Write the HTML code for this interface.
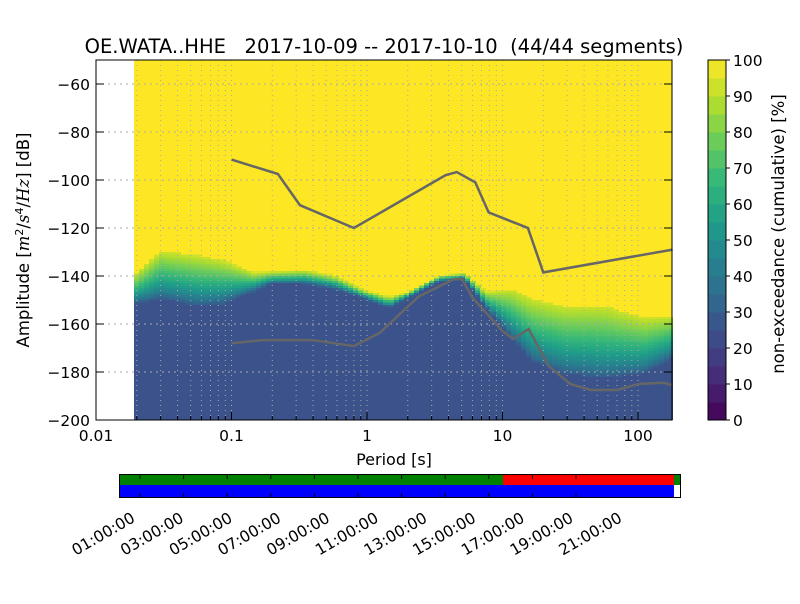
<!DOCTYPE html>
<html><head><meta charset="utf-8"><style>
body{margin:0;background:#fff;width:800px;height:600px;overflow:hidden;font-family:"DejaVu Sans","Liberation Sans",sans-serif}
text{white-space:pre}
</style></head><body>
<svg id="svg" width="800" height="600" xmlns="http://www.w3.org/2000/svg" font-family="DejaVu Sans, Liberation Sans, sans-serif">
<g id="heat" shape-rendering="crispEdges"></g>
<g id="grid"></g>
<g id="lines"></g>
<rect x="96" y="60" width="576" height="360" fill="none" stroke="#000" stroke-width="1"/>
<g id="axes"></g>
<text x="384" y="53" font-size="19.5" text-anchor="middle" xml:space="preserve">OE.WATA..HHE   2017-10-09 -- 2017-10-10  (44/44 segments)</text>
<text x="394" y="465" font-size="16" text-anchor="middle">Period [s]</text>
<text transform="translate(29,240) rotate(-90)" font-size="16.5" text-anchor="middle">Amplitude [<tspan font-style="italic" font-family="DejaVu Serif, serif">m</tspan><tspan font-size="11" dy="-6">2</tspan><tspan dy="6">/</tspan><tspan font-style="italic" font-family="DejaVu Serif, serif">s</tspan><tspan font-size="11" dy="-6">4</tspan><tspan dy="6">/</tspan><tspan font-style="italic" font-family="DejaVu Serif, serif">Hz</tspan>] [dB]</text>
<g id="cbar"></g>
<text transform="translate(784,234) rotate(-90)" font-size="16.5" text-anchor="middle">non-exceedance (cumulative) [%]</text>
<g id="avail"></g>
</svg>
<script>
const periods=[0.019,0.029,0.055,0.083,0.14,0.19,0.33,0.54,0.9,1.4,1.9,3.3,5.0,7.3,11,16,27,53,107,180];
const blueTopDb=[-151,-149,-152,-151,-146,-143,-143,-145,-149,-153,-149,-142,-141,-153,-165,-175,-180,-182,-180,-173];
const yellowBotDb=[-139,-130,-132,-134,-139,-138.5,-138,-140,-146,-149,-147,-140,-139,-147,-146,-150,-153,-153,-158,-157];
const nhnmP=[0.1,0.22,0.32,0.8,3.8,4.6,6.3,7.9,15.4,20,180];
const nhnmDb=[-91.5,-97.5,-110.5,-120,-98,-96.7,-101,-113.5,-120,-138.5,-129];
const nlnmP=[0.1,0.17,0.4,0.8,1.24,2.4,4.3,5,6,10,12,15.6,21.9,31.6,45,70,101,154,180];
const nlnmDb=[-168,-166.7,-166.7,-169.2,-163.7,-148.6,-141.5,-141.1,-149,-163,-166.2,-162.1,-177.5,-185,-187.5,-187.5,-185,-184.5,-185.5];
const yTicks=[-60,-80,-100,-120,-140,-160,-180,-200];
const xTicks=[0.01,0.1,1,10,100];
const xTickLabels=["0.01","0.1","1","10","100"];
const cbTicks=[0,10,20,30,40,50,60,70,80,90,100];
const timeLabels=["01:00:00","03:00:00","05:00:00","07:00:00","09:00:00","11:00:00","13:00:00","15:00:00","17:00:00","19:00:00","21:00:00"];
const hourTicks=[1,3,5,7,9,11,13,15,17,19,21];
const gapStartHour=16.4, dataEndHour=23.7;

const NS='http://www.w3.org/2000/svg';
const X=p=>96+(Math.log10(p)+2)*135.5;
const Y=d=>420-(d+200)*2.4;
function mk(t,a,par){const e=document.createElementNS(NS,t);for(const k in a)e.setAttribute(k,a[k]);document.getElementById(par).appendChild(e);return e;}
const vir=[[68,1,84],[72,40,120],[62,74,137],[49,104,142],[38,130,142],[31,158,137],[53,183,121],[109,205,89],[180,222,44],[253,231,37]];
function vc(t){t=Math.max(0,Math.min(1,t));const f=t*9,i=Math.min(8,Math.floor(f)),r=f-i;const c=vir[i].map((v,k)=>Math.round(v+(vir[i+1][k]-v)*r));return `rgb(${c})`;}
function interp(xs,ys,x){const lx=Math.log10(x);for(let i=0;i<xs.length-1;i++){const a=Math.log10(xs[i]),b=Math.log10(xs[i+1]);if(lx<=b||i==xs.length-2){const r=Math.max(0,Math.min(1,(lx-a)/(b-a)));return ys[i]+(ys[i+1]-ys[i])*r;}}}
// heatmap
const bg=mk('rect',{x:X(periods[0]),y:60,width:672-X(periods[0]),height:360,fill:vc(1)},'heat');


const step=0.0376;
for(let lp=Math.log10(periods[0]);lp<Math.log10(180);lp+=step){
  const p=Math.pow(10,lp),x0=Math.round(X(p)),x1=Math.min(672,Math.round(X(Math.pow(10,lp+step))));
  const bt=interp(periods,blueTopDb,p),yb=interp(periods,yellowBotDb,p);
  const b=mk('rect',{x:x0,y:Y(bt),width:x1-x0+1,height:420-Y(bt),fill:'#3b528b'},'heat');
  
  
  for(let d=Math.floor(bt);d<yb;d+=1){
    const t=Math.max(0,(d+0.5-bt)/(yb-bt));const v=0.3+0.62*Math.pow(t,0.8);
    const r=mk('rect',{x:x0,y:Y(d+1),width:x1-x0+1,height:2.4,fill:vc(v)},'heat');
    
    
  }
}
// grid
for(let dec=-2;dec<=2;dec++)for(let m=1;m<=9;m++){const p=m*Math.pow(10,dec);if(p>181)continue;const x=X(p);if(x<=96.5)continue;
  const l=mk('line',{x1:x,x2:x,y1:60,y2:420,stroke:'#aaa','stroke-dasharray':'1,4','stroke-width':1},'grid');
  
  
  const tk=mk('line',{x1:x,x2:x,y1:420,y2:m==1?412:416,stroke:'#000'},'axes');
  
  }
yTicks.forEach(v=>{const y=Y(v);
  const l=mk('line',{x1:96,x2:672,y1:y,y2:y,stroke:'#aaa','stroke-dasharray':'2,4'},'grid');
  
  
  const t=mk('text',{x:90,y:y+6,'font-size':15.5,'text-anchor':'end'},'axes');t.textContent=String(v).replace('-','\u2212');
  
  
  mk('line',{x1:96,x2:104,y1:y,y2:y,stroke:'#000'},'axes');mk('line',{x1:664,x2:672,y1:y,y2:y,stroke:'#000'},'axes');});
xTicks.forEach((v,i)=>{const t=mk('text',{x:X(v),y:441,'font-size':15.5,'text-anchor':'middle'},'axes');t.textContent=xTickLabels[i];
  
  });
function line(ps,ds,name){const pts=ps.map((p,i)=>X(p)+','+Y(ds[i])).join(' ');
  const l=mk('polyline',{points:pts,fill:'none',stroke:'#666','stroke-width':2.5},'lines');
  
  }
line(nhnmP,nhnmDb,'high-noise-model-line');line(nlnmP,nlnmDb,'low-noise-model-line');
// colorbar
for(let i=0;i<20;i++){const y0=420-(i+1)*18;
  const r=mk('rect',{x:708,y:y0,width:18,height:18.5,fill:vc((i+0.5)/20)},'cbar');
  
  }
mk('rect',{x:708,y:60,width:18,height:360,fill:'none',stroke:'#000'},'cbar');
cbTicks.forEach(v=>{const y=420-v*3.6;mk('line',{x1:726,x2:730,y1:y,y2:y,stroke:'#000'},'cbar');
  const t=mk('text',{x:733,y:y+6,'font-size':15.5},'cbar');t.textContent=v;
  
  });
// availability bar
const HX=h=>119+h*(562/24);
mk('rect',{x:120,y:475,width:560,height:10,fill:'#008000'},'avail');
mk('rect',{x:HX(gapStartHour),y:475,width:HX(dataEndHour)-HX(gapStartHour),height:10,fill:'#f00'},'avail');
mk('rect',{x:120,y:485,width:HX(dataEndHour)-120,height:12,fill:'#00f'},'avail');
mk('rect',{x:119.5,y:474.5,width:561,height:23,fill:'none',stroke:'#000'},'avail');
hourTicks.forEach((h,i)=>{const x=140+i*43.6;
  mk('line',{x1:x,x2:x,y1:475,y2:479,stroke:'#000'},'avail');mk('line',{x1:x,x2:x,y1:493,y2:497,stroke:'#000'},'avail');
  const lx=136+i*48.7;
  const t=mk('text',{x:lx,y:521,'font-size':15.5,'text-anchor':'end',transform:`rotate(-30 ${lx} 521)`},'avail');t.textContent=timeLabels[i];
  
  });
</script>
</body></html>
